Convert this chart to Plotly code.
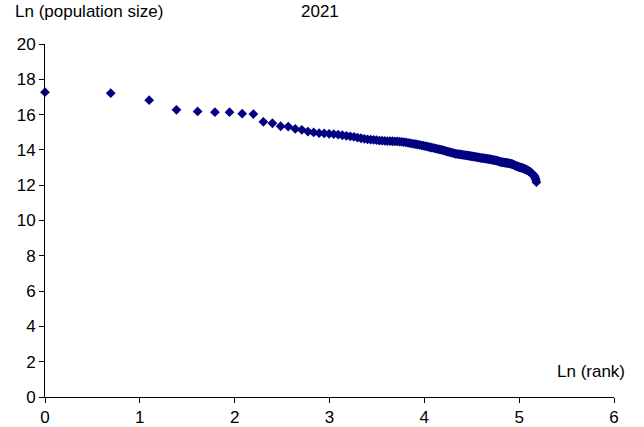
import numpy as np
import plotly.graph_objects as go

# Rank of each city (1 = largest)
ranks = list(range(1, 179))

# Ln(population size), by rank
ln_pop = [
    17.27, 17.21, 16.82, 16.27, 16.18, 16.14, 16.14, 16.05, 16.03, 15.59,
    15.51, 15.34, 15.32, 15.19, 15.14, 15.04, 14.99, 14.95, 14.93, 14.91,
    14.89, 14.87, 14.83, 14.80, 14.77, 14.74, 14.70, 14.66, 14.63, 14.60,
    14.58, 14.57, 14.55, 14.53, 14.52, 14.51, 14.50, 14.50, 14.49, 14.48,
    14.48, 14.47, 14.46, 14.44, 14.42, 14.40, 14.38, 14.36, 14.34, 14.32,
    14.30, 14.28, 14.26, 14.24, 14.22, 14.20, 14.17, 14.15, 14.13, 14.11,
    14.09, 14.07, 14.05, 14.03, 14.01, 13.99, 13.97, 13.94, 13.92, 13.90,
    13.88, 13.86, 13.84, 13.82, 13.80, 13.78, 13.77, 13.76, 13.75, 13.74,
    13.73, 13.72, 13.71, 13.70, 13.69, 13.68, 13.67, 13.66, 13.65, 13.64,
    13.63, 13.62, 13.61, 13.60, 13.59, 13.58, 13.57, 13.56, 13.55, 13.54,
    13.53, 13.53, 13.52, 13.51, 13.50, 13.49, 13.48, 13.48, 13.47, 13.46,
    13.45, 13.44, 13.43, 13.42, 13.41, 13.40, 13.39, 13.38, 13.37, 13.35,
    13.34, 13.32, 13.31, 13.31, 13.30, 13.29, 13.28, 13.28, 13.27, 13.26,
    13.26, 13.25, 13.24, 13.23, 13.22, 13.21, 13.21, 13.20, 13.18, 13.16,
    13.14, 13.12, 13.10, 13.09, 13.07, 13.06, 13.04, 13.03, 13.02, 13.01,
    13.00, 12.99, 12.98, 12.97, 12.96, 12.94, 12.93, 12.91, 12.90, 12.88,
    12.86, 12.84, 12.82, 12.80, 12.78, 12.76, 12.74, 12.72, 12.69, 12.66,
    12.63, 12.60, 12.56, 12.52, 12.47, 12.40, 12.30, 12.17,
]

ln_rank = np.log(np.array(ranks, dtype=float))

title_text = "2021"
y_title = "Ln (population size)"
x_title = "Ln (rank)"

FONT = "Liberation Sans, Arial, sans-serif"
FS = 17

fig = go.Figure()
fig.add_trace(go.Scatter(
    x=ln_rank, y=ln_pop, mode="markers",
    marker=dict(symbol="diamond", size=7.5, color="#000080", line=dict(width=0)),
    cliponaxis=False, showlegend=False,
))

axis_common = dict(
    showgrid=False, zeroline=False, showline=True, linecolor="#000000", linewidth=1,
    ticks="outside", ticklen=5, tickcolor="#000000", tickwidth=1,
    tickfont=dict(family=FONT, size=FS, color="#000000"),
    automargin=False,
)

fig.update_layout(
    width=644, height=427,
    margin=dict(l=45, r=30, t=44, b=30),
    paper_bgcolor="white", plot_bgcolor="white",
    xaxis=dict(range=[0, 6], dtick=1, tick0=0, **axis_common),
    yaxis=dict(range=[0, 20], dtick=2, tick0=0, **axis_common),
    annotations=[
        dict(text=y_title, xref="paper", yref="paper", x=-0.056, y=1.093,
             xanchor="left", yanchor="middle", showarrow=False,
             font=dict(family=FONT, size=FS, color="#000000")),
        dict(text=title_text, xref="paper", yref="paper", x=0.484, y=1.093,
             xanchor="center", yanchor="middle", showarrow=False,
             font=dict(family=FONT, size=FS, color="#000000")),
        dict(text=x_title, xref="paper", yref="paper", x=1.023, y=0.071,
             xanchor="right", yanchor="middle", showarrow=False,
             font=dict(family=FONT, size=FS, color="#000000")),
    ],
)

fig.write_html("out.html")
